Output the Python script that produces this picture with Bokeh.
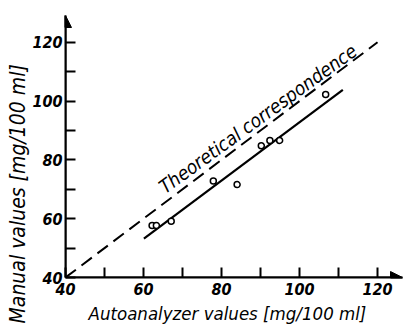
import math
from bokeh.plotting import figure
from bokeh.models import FixedTicker, Arrow, NormalHead, Title
from bokeh.core.properties import value
from bokeh.embed import file_html
from bokeh.resources import INLINE

# data (mg/100 ml)
auto_vals = [62.2, 63.3, 67.1, 77.9, 84.0, 90.2, 92.4, 94.9, 106.7]
manual_vals = [57.7, 57.7, 59.1, 72.8, 71.6, 84.8, 86.6, 86.6, 102.2]
fit_x = [60.1, 111.1]
fit_y = [53.2, 103.8]
theory_x = [40, 120]
theory_y = [40, 120]
major_ticks = [40, 60, 80, 100, 120]
minor_ticks = [50, 70, 90, 110]

FONT = "DejaVu Sans Condensed"

p = figure(width=407, height=328, x_range=(40, 126.4), y_range=(40, 129.1),
           output_backend="svg", toolbar_location=None,
           min_border_left=65, min_border_right=5, min_border_top=15, min_border_bottom=51)
p.outline_line_color = None
p.grid.visible = False
p.background_fill_color = "white"

for ax in (p.xaxis[0], p.yaxis[0]):
    ax.ticker = FixedTicker(ticks=major_ticks, minor_ticks=minor_ticks)
    ax.axis_line_width = 2
    ax.axis_line_color = "black"
    ax.major_tick_in = 10
    ax.major_tick_out = 0
    ax.minor_tick_in = 10
    ax.minor_tick_out = 0
    ax.major_tick_line_width = 2
    ax.minor_tick_line_width = 2
    ax.major_tick_line_color = "black"
    ax.minor_tick_line_color = "black"
    ax.major_label_text_font = FONT
    ax.major_label_text_font_style = "bold italic"
    ax.major_label_text_font_size = "16px"
    ax.major_label_text_color = "black"
p.xaxis.major_label_standoff = 5
p.yaxis.major_label_standoff = 3

# axis arrows
p.add_layout(Arrow(x_start=40, y_start=40, x_end=126.4, y_end=40, line_width=2,
                   end=NormalHead(size=12, fill_color="black", line_color="black")))
p.add_layout(Arrow(x_start=40, y_start=40, x_end=40, y_end=129.1, line_width=2,
                   end=NormalHead(size=12, fill_color="black", line_color="black")))

p.line(theory_x, theory_y, line_color="black", line_width=2, line_dash="13 7")
p.line(fit_x, fit_y, line_color="black", line_width=2.2)
p.scatter(auto_vals, manual_vals, marker="circle", size=6, fill_color="white",
          line_color="black", line_width=1.5)

p.text(x=[64.5], y=[70.2], text=["Theoretical correspondence"], angle=math.radians(36),
       text_font=value(FONT), text_font_style="italic", text_font_size="19px",
       text_baseline="alphabetic", text_align="left", text_color="black")

p.add_layout(Title(text="Autoanalyzer values [mg/100 ml]", align="left", offset=23,
                   text_color="black", text_font=FONT, text_font_style="italic",
                   text_font_size="18.5px", standoff=6), "below")
p.add_layout(Title(text="Manual values [mg/100 ml]", align="left", offset=-46,
                   text_color="black", text_font=FONT, text_font_style="italic",
                   text_font_size="21px", standoff=0), "left")

open("out.html", "w").write(file_html(p, INLINE))
